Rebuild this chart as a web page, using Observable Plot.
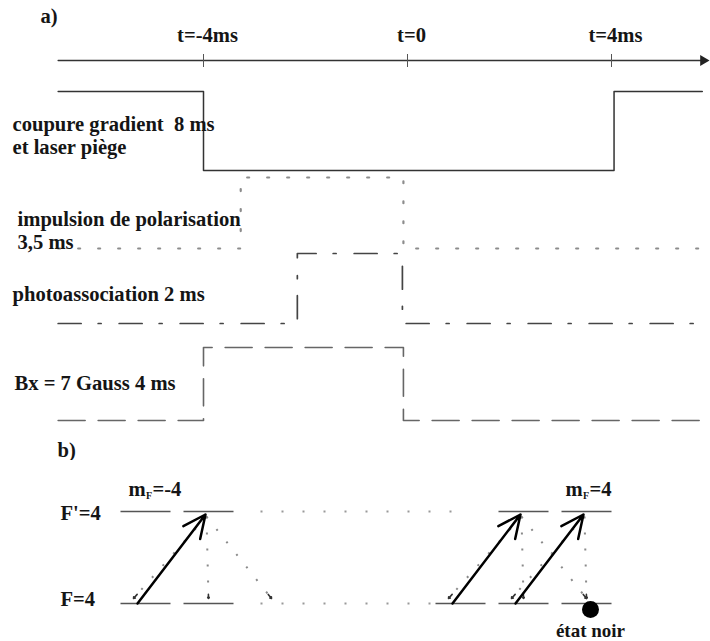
<!DOCTYPE html>
<html><head><meta charset="utf-8">
<script src="https://cdn.jsdelivr.net/npm/d3@7"></script>
<script src="https://cdn.jsdelivr.net/npm/@observablehq/plot@0.6"></script>
<style>
html,body{margin:0;padding:0;background:#fff;}
#chart svg{display:block;}
</style></head><body><div id="chart"></div>
<script>
// ---------------- data ----------------
// a) timing sequence (ms)
const timeTicks = [-4, 0, 4];
const timeTickLabels = ["t=-4ms", "t=0", "t=4ms"];
const timeAxisExtent = [-6.85, 5.8];
const signalLabels = [["coupure gradient  8 ms", "et laser piège"], ["impulsion de polarisation", "3,5 ms"], ["photoassociation 2 ms"], ["Bx = 7 Gauss 4 ms"]];
const signalOn = [-4, -3.27, -2.16, -4];
const signalOff = [4.05, -0.08, -0.1, -0.08];
const signalInverted = [true, false, false, false];
// b) Zeeman sublevels (slot index along the m_F axis)
const levelLabels = ["F'=4", "F=4"];
const mFLabels = ["-4", "4"];
const mFLabelSlots = [0, 7];
const lowerSublevels = [0, 1, 5, 6, 7];
const upperSublevels = [0, 1, 6, 7];
const pumpFrom = [0, 5, 6];
const decayFrom = [1, 1, 1, 6, 6, 6, 7, 7];
const decayTo = [0, 1, 2, 5, 6, 7, 6, 7];
const darkStateSlot = 7;
const darkStateLabel = "état noir";

// ---------------- layout ----------------
const W = 710, HA = 460, HB = 181;
const FONT = "'Liberation Serif', 'Times New Roman', serif";
const FS = 20.6;
const INK = "#151515";
const xa = px => (px - 407) / 51;           // page px -> ms
const rowHigh = [91, 177, 253, 347], rowLow = [170, 248, 323, 420];
const axisY = 60;
const rowStyle = [
  {stroke: "#333", strokeWidth: 1.5},
  {stroke: "#8c8c8c", strokeWidth: 2.2, strokeDasharray: "2 18"},
  {stroke: "#444", strokeWidth: 1.7, strokeDasharray: "23 17 3 18"},
  {stroke: "#666", strokeWidth: 1.6, strokeDasharray: "27 13"}
];
const labelX = [12, 17, 12, 14], labelY = [124, 219, 294, 383];
const txt = {fontSize: FS, fontWeight: "bold", fontFamily: FONT, fill: INK};

const marksA = [];
// time axis
marksA.push(Plot.line(timeAxisExtent.map(t => ({t, y: axisY})), {x: "t", y: "y", stroke: "#333", strokeWidth: 1.4}));
marksA.push(Plot.dot([{t: timeAxisExtent[1], y: axisY}], {x: "t", y: "y", symbol: "triangle", rotate: 90, r: 4, fill: "#222", stroke: "none"}));
marksA.push(Plot.ruleX(timeTicks, {x: d => d, y1: axisY - 6, y2: axisY + 7, stroke: "#555", strokeWidth: 1}));
marksA.push(Plot.text(timeTicks.map((t, i) => ({t, s: timeTickLabels[i]})), {x: "t", y: 35, text: "s", dx: 4, ...txt}));
marksA.push(Plot.text(["a)"], {x: xa(40), y: 16, text: d => d, textAnchor: "start", ...txt}));
marksA.push(Plot.text(["b)"], {x: xa(57), y: 450, text: d => d, textAnchor: "start", ...txt}));

signalOn.forEach((on, i) => {
  const idle = signalInverted[i] ? rowHigh[i] : rowLow[i];
  const act = signalInverted[i] ? rowLow[i] : rowHigh[i];
  const off = signalOff[i];
  const pts = [
    {t: timeAxisExtent[0], y: idle}, {t: on, y: idle}, {t: on, y: act},
    {t: off, y: act}, {t: off, y: idle}, {t: timeAxisExtent[1] - 0.02, y: idle}
  ];
  marksA.push(Plot.line(pts, {x: "t", y: "y", ...rowStyle[i]}));
  signalLabels[i].forEach((line, j) => {
    marksA.push(Plot.text([line], {x: xa(labelX[i]), y: labelY[i] + 23 * j, text: d => d, textAnchor: "start", ...txt}));
  });
});

const plotA = Plot.plot({
  width: W, height: HA, margin: 0,
  x: {domain: [xa(0), xa(W)], range: [0, W], axis: null},
  y: {domain: [0, HA], range: [0, HA], axis: null},
  marks: marksA
});

// ---------------- b) ----------------
const SP = 63, X0 = 145;
const xb = px => (px - X0) / SP;     // page px -> slot
const yb = px => (603 - px) / 92;    // page px -> level (0 = F, 1 = F')
const half = 25 / SP;
const marksB = [];
// solid sublevels
marksB.push(Plot.link(lowerSublevels, {x1: s => s - half, x2: s => s + half, y1: 0, y2: 0, stroke: "#555", strokeWidth: 1.6}));
marksB.push(Plot.link(upperSublevels, {x1: s => s - half, x2: s => s + half, y1: 1, y2: 1, stroke: "#555", strokeWidth: 1.6}));
// intermediate sublevels, dotted
marksB.push(Plot.link([{a: xb(260), b: xb(430), y: 0}, {a: xb(260), b: xb(458), y: 1}], {x1: "a", x2: "b", y1: "y", y2: "y", stroke: "#999", strokeWidth: 2, strokeDasharray: "2 19"}));
// spontaneous decays
const decays = decayFrom.map((u, i) => {
  const t = decayTo[i];
  const off = t < u ? -12 / SP : 0;
  return {x1: u - 2 / SP, y1: yb(516), x2: t + off, y2: yb(598)};
});
marksB.push(Plot.link(decays, {x1: "x1", y1: "y1", x2: "x2", y2: "y2", stroke: "#8a8a8a", strokeWidth: 2, strokeDasharray: "2 14"}));
marksB.push(Plot.arrow(decays.map(d => ({x1: d.x1 + 0.95 * (d.x2 - d.x1), y1: d.y1 + 0.95 * (d.y2 - d.y1), x2: d.x2, y2: d.y2})), {x1: "x1", y1: "y1", x2: "x2", y2: "y2", stroke: "#333", strokeWidth: 1.6, headLength: 7, headAngle: 70}));
// optical pumping (sigma+) arrows
marksB.push(Plot.arrow(pumpFrom, {x1: s => s - 8 / SP, y1: 0, x2: s => s + 1 - 3 / SP, y2: yb(514), stroke: "#000", strokeWidth: 2.5, headLength: 15, headAngle: 50}));
// dark state
marksB.push(Plot.dot([darkStateSlot], {x: s => s + 4 / SP, y: yb(609), r: 8.5, fill: "#000", stroke: "none"}));
marksB.push(Plot.text([darkStateLabel], {x: darkStateSlot + 4 / SP, y: yb(630), text: d => d, ...txt, fontSize: 19}));
// level labels
marksB.push(Plot.text(levelLabels, {x: xb(60), y: (d, i) => i === 0 ? yb(513) : yb(599), text: d => d, textAnchor: "start", ...txt}));
// m_F labels
const mOff = [-17, -21];
mFLabels.forEach((v, i) => {
  const s = mFLabelSlots[i];
  marksB.push(Plot.text(["m"], {x: s, y: yb(489), dx: mOff[i], text: d => d, textAnchor: "start", ...txt}));
  marksB.push(Plot.text(["F"], {x: s, y: yb(495), dx: mOff[i] + 17.5, text: d => d, textAnchor: "start", ...txt, fontSize: 10}));
  marksB.push(Plot.text(["=" + v], {x: s, y: yb(489), dx: mOff[i] + 24, text: d => d, textAnchor: "start", ...txt}));
});

const plotB = Plot.plot({
  width: W, height: HB, margin: 0,
  x: {domain: [xb(0), xb(W)], range: [0, W], axis: null},
  y: {domain: [0, 1], range: [143, 51], axis: null},
  marks: marksB
});

const c = document.getElementById("chart");
c.append(plotA, plotB);
</script></body></html>
